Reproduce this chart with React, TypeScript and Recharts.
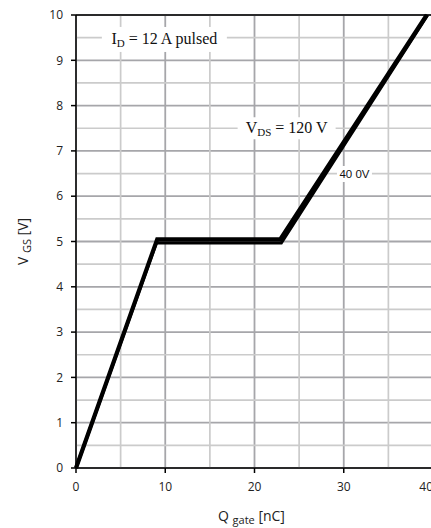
import { LineChart, Line, XAxis, YAxis, CartesianGrid, ReferenceLine, ReferenceDot } from 'recharts';

// gate charge curves, Q in nC, V_GS in V
const vds120 = [
  { q: 0, v: 0 },
  { q: 9.1, v: 5.05 },
  { q: 22.9, v: 5.05 },
  { q: 39.3, v: 10 },
];
const vds400 = [
  { q: 0, v: 0 },
  { q: 9.0, v: 4.97 },
  { q: 23.0, v: 4.97 },
  { q: 39.4, v: 10 },
];

const xTicks = [0, 10, 20, 30, 40];
const xMinor = [5, 15, 25, 35];
const yTicks = [0, 1, 2, 3, 4, 5, 6, 7, 8, 9, 10];
const yMinor = [0.5, 1.5, 2.5, 3.5, 4.5, 5.5, 6.5, 7.5, 8.5, 9.5];

const sans = '"Open Sans", sans-serif';
const serif = '"Liberation Serif", "Times New Roman", serif';

function NoteBox({ cx, cy, w, h, children }: any) {
  return (
    <g>
      <rect x={cx - w / 2} y={cy - h / 2} width={w} height={h} fill="#fff" />
      {children}
    </g>
  );
}

// the last label sits flush left of its tick so it stays near the edge
function XTick({ x, y, payload }: any) {
  const last = payload.value === xTicks[xTicks.length - 1];
  return (
    <text
      x={x}
      y={y + 16}
      textAnchor={last ? 'end' : 'middle'}
      fontFamily={sans}
      fontSize={12}
      fill="#222"
    >
      {payload.value}
    </text>
  );
}

function XLabel({ viewBox }: any) {
  const cx = viewBox.x + viewBox.width / 2 - 3;
  return (
    <text x={cx} y={521} textAnchor="middle" fontFamily={sans} fontSize={14} fill="#222">
      Q <tspan fontSize={11} dy={3}>gate</tspan>
      <tspan dy={-3}> [nC]</tspan>
    </text>
  );
}

function YLabel({ viewBox }: any) {
  const cx = 28;
  const cy = viewBox.y + viewBox.height / 2;
  return (
    <text
      x={cx}
      y={cy}
      transform={`rotate(-90 ${cx} ${cy})`}
      textAnchor="middle"
      fontFamily={sans}
      fontSize={14}
      fill="#222"
    >
      V <tspan fontSize={11} dy={3}>GS</tspan>
      <tspan dy={-3}> [V]</tspan>
    </text>
  );
}

export default function App() {
  return (
    <div style={{ position: 'fixed', left: 0, top: 0, width: 431, height: 528, overflow: 'hidden', background: '#fff' }}>
      <LineChart width={460} height={528} margin={{ top: 15, right: 27, left: 0, bottom: 0 }}>
        {xMinor.map(x => (
          <ReferenceLine key={'xm' + x} x={x} stroke="#cbcbcb" strokeWidth={1.7} />
        ))}
        {yMinor.map(y => (
          <ReferenceLine key={'ym' + y} y={y} stroke="#cbcbcb" strokeWidth={1.7} />
        ))}
        <CartesianGrid stroke="#a6a6aa" strokeWidth={1.8} />
        <XAxis
          type="number"
          dataKey="q"
          domain={[0, 40]}
          ticks={xTicks}
          height={60}
          stroke="#000"
          strokeWidth={1.5}
          tickSize={5}
          tick={<XTick />}
          label={<XLabel />}
        />
        <YAxis
          type="number"
          dataKey="v"
          domain={[0, 10]}
          ticks={yTicks}
          width={76}
          stroke="#000"
          strokeWidth={1.5}
          tickSize={5}
          tickMargin={8}
          tick={{ fill: '#222', fontSize: 12, fontFamily: sans }}
          label={<YLabel />}
        />
        <ReferenceLine y={10} stroke="#000" strokeWidth={1.5} />
        <ReferenceDot
          x={9.9}
          y={9.46}
          r={0}
          shape={(p: any) => (
            <NoteBox cx={p.cx} cy={p.cy} w={125} h={25}>
              <text x={p.cx} y={p.cy + 5} textAnchor="middle" fontFamily={serif} fontSize={16} fill="#111">
                I<tspan fontSize={11} dy={3}>D</tspan>
                <tspan dy={-3}> = 12 A pulsed</tspan>
              </text>
            </NoteBox>
          )}
        />
        <ReferenceDot
          x={23.6}
          y={7.5}
          r={0}
          shape={(p: any) => (
            <NoteBox cx={p.cx} cy={p.cy} w={98} h={22}>
              <text x={p.cx} y={p.cy + 5} textAnchor="middle" fontFamily={serif} fontSize={16} fill="#111">
                V<tspan fontSize={11} dy={3}>DS</tspan>
                <tspan dy={-3}> = 120 V</tspan>
              </text>
            </NoteBox>
          )}
        />
        <ReferenceDot
          x={31.2}
          y={6.49}
          r={0}
          shape={(p: any) => (
            <NoteBox cx={p.cx} cy={p.cy} w={35} h={16}>
              <text x={p.cx} y={p.cy + 4} textAnchor="middle" fontFamily='"Liberation Sans", Arial, sans-serif' fontSize={11.5} fill="#111">
                40 0V
              </text>
            </NoteBox>
          )}
        />
        <Line data={vds400} dataKey="v" type="linear" stroke="#000" strokeWidth={3.2} dot={false} isAnimationActive={false} />
        <Line data={vds120} dataKey="v" type="linear" stroke="#000" strokeWidth={4.2} dot={false} isAnimationActive={false} />
      </LineChart>
    </div>
  );
}
